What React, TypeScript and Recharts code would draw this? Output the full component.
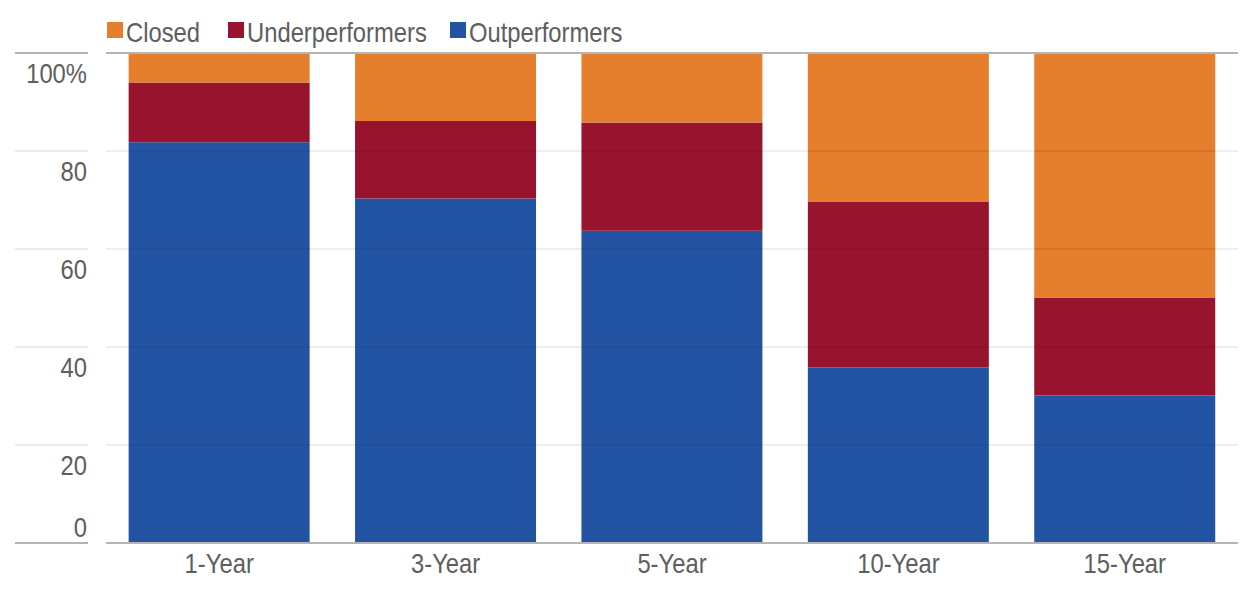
import { BarChart, Bar, XAxis, YAxis, ReferenceLine } from 'recharts';

const periods = ['1-Year', '3-Year', '5-Year', '10-Year', '15-Year'];
const outperformers = [81.8, 70.3, 63.7, 35.8, 30.1];
const underperformers = [12.2, 15.8, 22.1, 33.8, 20.0];
const closed = [6.0, 13.9, 14.2, 30.4, 49.9];
const yTicks = [0, 20, 40, 60, 80, 100];
const innerGrid = [20, 40, 60, 80];

// Liberation Sans squeezed horizontally to mimic the condensed face
const FONT = '"Liberation Sans", Arial, sans-serif';
const SQUEEZE = 0.85;
const TEXT = '#5e5e5e';

// stacked bottom -> top
const SERIES = [
  { key: 'out', name: 'Outperformers', color: '#2354A3' },
  { key: 'under', name: 'Underperformers', color: '#98142E' },
  { key: 'closed', name: 'Closed', color: '#E57E2D' },
];
const LEGEND_ORDER = ['closed', 'under', 'out'];
const LEGEND_LEFT = [107, 228, 450];

const data = periods.map((p, i) => ({
  period: p,
  out: outperformers[i],
  under: underperformers[i],
  closed: closed[i],
}));

function NarrowText({ x, y, anchor, children }: any) {
  return (
    <text
      transform={`translate(${x},${y}) scale(${SQUEEZE},1)`}
      textAnchor={anchor}
      fill={TEXT}
      fontSize={28}
      fontFamily={FONT}
    >
      {children}
    </text>
  );
}

function YTick({ y, payload }: any) {
  const v = payload.value;
  const edge = v === 0 || v === 100;
  return (
    <g>
      <line x1={15} x2={88} y1={y} y2={y} stroke={edge ? '#b4b4b4' : '#e3e3e3'} strokeWidth={edge ? 2 : 1.5} />
      <NarrowText x={87} y={v === 0 ? y - 6 : y + 30} anchor="end">
        {v === 100 ? '100%' : v}
      </NarrowText>
    </g>
  );
}

function XTick({ x, payload }: any) {
  return (
    <NarrowText x={x} y={573} anchor="middle">
      {payload.value}
    </NarrowText>
  );
}

function LegendBox() {
  return (
    <svg width={700} height={50} style={{ position: 'absolute', left: 0, top: 0 }}>
      {LEGEND_ORDER.map((k, i) => {
        const s = SERIES.find((x) => x.key === k)!;
        const left = LEGEND_LEFT[i];
        return (
          <g key={k}>
            <rect x={left} y={22} width={16} height={16} fill={s.color} />
            <NarrowText x={left + 19} y={42} anchor="start">
              {s.name}
            </NarrowText>
          </g>
        );
      })}
    </svg>
  );
}

export default function App() {
  return (
    <div style={{ position: 'absolute', left: 0, top: 0, width: 1257, height: 591, background: '#fff' }}>
      <BarChart
        width={1257}
        height={591}
        data={data}
        margin={{ top: 53, right: 19, left: 0, bottom: 0 }}
        barCategoryGap="10%"
      >
        <XAxis dataKey="period" height={48} axisLine={false} tickLine={false} tick={<XTick />} />
        <YAxis
          width={106}
          domain={[0, 100]}
          ticks={yTicks}
          axisLine={false}
          tickLine={false}
          tick={<YTick />}
        />
        {SERIES.map((s) => (
          <Bar key={s.key} dataKey={s.key} name={s.name} stackId="a" fill={s.color} isAnimationActive={false} />
        ))}
        {innerGrid.map((v) => (
          <ReferenceLine key={v} y={v} stroke="#000" strokeOpacity={0.09} strokeWidth={1.5} />
        ))}
        <ReferenceLine y={0} stroke="#b4b4b4" strokeWidth={2} />
        <ReferenceLine y={100} stroke="#b4b4b4" strokeWidth={2} />
      </BarChart>
      <LegendBox />
    </div>
  );
}
